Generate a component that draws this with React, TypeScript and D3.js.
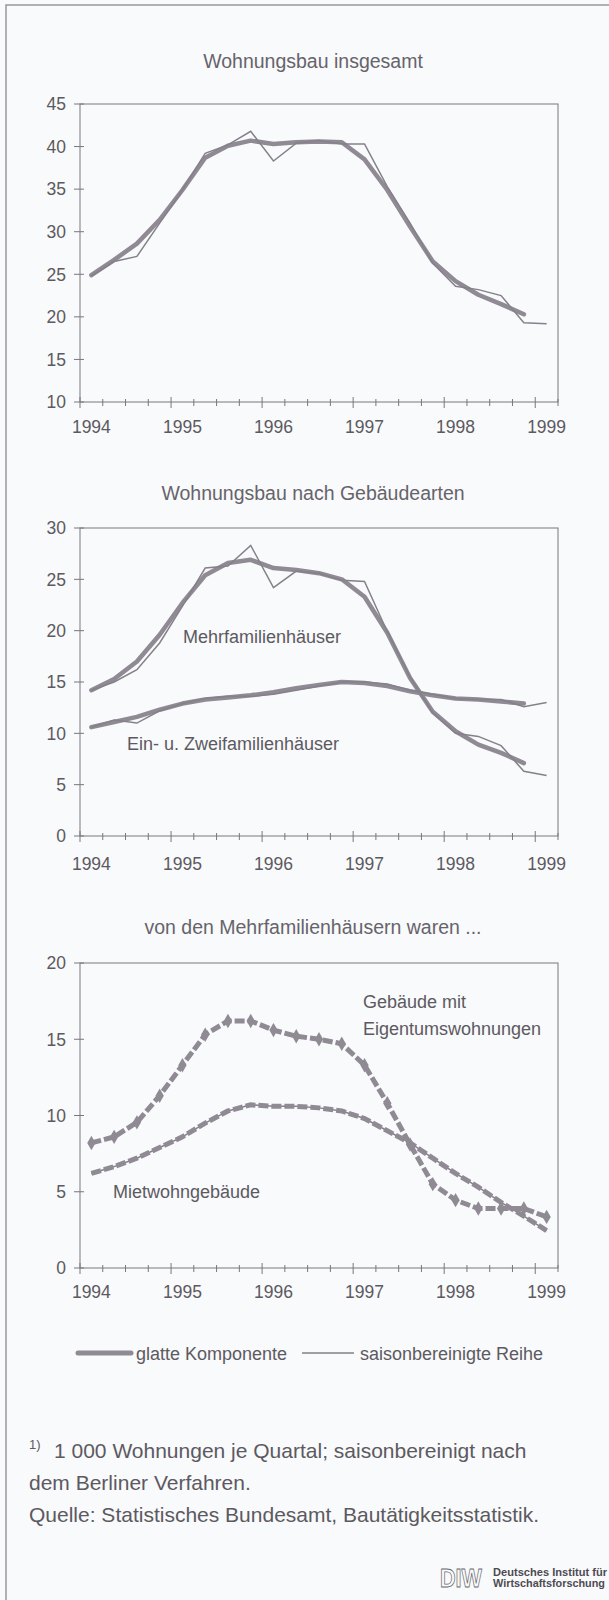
import React, { useEffect, useRef } from 'react';
import * as d3 from 'd3';

// Quartale 1994 Q1 .. 1999 Q1
const quarters = [
  '1994 Q1', '1994 Q2', '1994 Q3', '1994 Q4',
  '1995 Q1', '1995 Q2', '1995 Q3', '1995 Q4',
  '1996 Q1', '1996 Q2', '1996 Q3', '1996 Q4',
  '1997 Q1', '1997 Q2', '1997 Q3', '1997 Q4',
  '1998 Q1', '1998 Q2', '1998 Q3', '1998 Q4',
  '1999 Q1',
];
const yearLabels = ['1994', '1995', '1996', '1997', '1998', '1999'];

// Wohnungsbau insgesamt
const insgesamtSaison = [24.8, 26.5, 27.1, 31.0, 34.9, 39.2, 40.2, 41.8, 38.3, 40.4, 40.7, 40.3, 40.3, 35.3, 31.0, 26.3, 23.6, 23.2, 22.5, 19.3, 19.2];
const insgesamtGlatt = [24.9, 26.7, 28.6, 31.4, 34.9, 38.7, 40.1, 40.7, 40.3, 40.5, 40.6, 40.5, 38.5, 34.9, 30.6, 26.5, 24.2, 22.6, 21.5, 20.3];

// nach Gebäudearten
const mehrSaison = [14.2, 15.0, 16.2, 18.8, 22.4, 26.1, 26.3, 28.3, 24.2, 25.8, 25.6, 24.9, 24.8, 19.9, 15.5, 12.0, 10.0, 9.7, 8.8, 6.3, 5.9];
const mehrGlatt = [14.2, 15.3, 17.0, 19.6, 22.7, 25.4, 26.6, 26.9, 26.1, 25.9, 25.6, 25.0, 23.3, 19.8, 15.4, 12.1, 10.2, 8.9, 8.1, 7.1];
const einSaison = [10.6, 11.3, 11.0, 12.2, 12.9, 13.4, 13.6, 13.6, 13.8, 14.2, 14.6, 15.0, 15.0, 14.8, 14.2, 13.8, 13.4, 13.3, 13.3, 12.6, 13.0];
const einGlatt = [10.6, 11.1, 11.6, 12.3, 12.9, 13.3, 13.5, 13.7, 14.0, 14.4, 14.7, 15.0, 14.9, 14.6, 14.1, 13.7, 13.4, 13.3, 13.1, 12.9];

// von den Mehrfamilienhäusern
const eigentum = [8.2, 8.6, 9.55, 11.3, 13.3, 15.3, 16.2, 16.2, 15.6, 15.2, 15.0, 14.7, 13.3, 10.8, 8.1, 5.5, 4.45, 3.9, 3.9, 3.9, 3.35];
const mietwohn = [6.2, 6.65, 7.2, 7.9, 8.6, 9.5, 10.3, 10.7, 10.6, 10.6, 10.5, 10.3, 9.8, 9.0, 8.2, 7.2, 6.2, 5.3, 4.3, 3.4, 2.45];

const W = 609;
const H = 1600;
const LEFT = 80;
const RIGHT = 558;
const FONT = 'Liberation Sans, Arial, sans-serif';
const LINE = '#8f8a93';
const AXIS = '#7a767e';
const TEXT = '#5d5961';

const panels = [
  {
    title: 'Wohnungsbau insgesamt', titleY: 68, top: 104, bottom: 402, domain: [10, 45], labelGap: 31,
    glatt: [insgesamtGlatt], saison: [insgesamtSaison], dashed: [] as number[][], markers: [] as number[][],
    labels: [] as { text: string; x: number; y: number }[],
  },
  {
    title: 'Wohnungsbau nach Gebäudearten', titleY: 500, top: 528, bottom: 836, domain: [0, 30], labelGap: 34,
    glatt: [mehrGlatt, einGlatt], saison: [mehrSaison, einSaison], dashed: [], markers: [],
    labels: [
      { text: 'Mehrfamilienhäuser', x: 183, y: 643 },
      { text: 'Ein- u. Zweifamilienhäuser', x: 127, y: 750 },
    ],
  },
  {
    title: 'von den Mehrfamilienhäusern waren ...', titleY: 934, top: 963, bottom: 1268, domain: [0, 20], labelGap: 30,
    glatt: [], saison: [mietwohn], dashed: [mietwohn, eigentum], markers: [eigentum],
    labels: [
      { text: 'Gebäude mit', x: 363, y: 1008 },
      { text: 'Eigentumswohnungen', x: 363, y: 1035 },
      { text: 'Mietwohngebäude', x: 113, y: 1198 },
    ],
  },
];

export default function App() {
  const ref = useRef<SVGSVGElement>(null);

  useEffect(() => {
    const svg = d3.select(ref.current);
    svg.selectAll('*').remove();

    svg.append('rect').attr('width', W).attr('height', H).attr('fill', '#f8fafb');
    // Rahmen links und oben
    svg.append('path')
      .attr('d', `M6,${H} V5 H${W}`)
      .attr('fill', 'none')
      .attr('stroke', '#9c989e')
      .attr('stroke-width', 1.5);

    const x = d3.scaleBand<string>().domain(quarters).range([LEFT, RIGHT]);
    const cx = (i: number) => (x(quarters[i]) as number) + x.bandwidth() / 2;

    panels.forEach((p) => {
      const y = d3.scaleLinear().domain(p.domain).range([p.bottom, p.top]);
      const g = svg.append('g').attr('font-family', FONT);

      g.append('text')
        .attr('x', 313)
        .attr('y', p.titleY)
        .attr('text-anchor', 'middle')
        .attr('font-size', 19.5)
        .attr('fill', '#67636b')
        .text(p.title);

      // Rahmen des Diagramms
      g.append('rect')
        .attr('x', LEFT).attr('y', p.top)
        .attr('width', RIGHT - LEFT).attr('height', p.bottom - p.top)
        .attr('fill', 'none').attr('stroke', AXIS).attr('stroke-width', 1);

      // y-Achse
      const yTicks = d3.range(p.domain[0], p.domain[1] + 0.1, 5);
      g.selectAll('.ytick').data(yTicks).enter().append('line')
        .attr('x1', LEFT - 6).attr('x2', LEFT + 4)
        .attr('y1', (d) => y(d)).attr('y2', (d) => y(d))
        .attr('stroke', AXIS);
      g.selectAll('.ylab').data(yTicks).enter().append('text')
        .attr('x', 66).attr('y', (d) => y(d)).attr('dy', '0.36em')
        .attr('text-anchor', 'end').attr('font-size', 17.5).attr('fill', TEXT)
        .text((d) => d);

      // x-Achse: Quartalsstriche
      const xTicks = quarters.map((q) => x(q) as number).concat([RIGHT]);
      g.selectAll('.xtick').data(xTicks).enter().append('line')
        .attr('x1', (d) => d).attr('x2', (d) => d)
        .attr('y1', (_, i) => p.bottom - (i % 4 === 0 ? 5 : 3))
        .attr('y2', (_, i) => p.bottom + (i % 4 === 0 ? 6 : 4))
        .attr('stroke', AXIS);
      g.selectAll('.xlab').data(yearLabels).enter().append('text')
        .attr('x', (d) => cx(quarters.indexOf(d + ' Q1')))
        .attr('y', p.bottom + p.labelGap)
        .attr('text-anchor', 'middle').attr('font-size', 17.5).attr('fill', TEXT)
        .text((d) => d);

      const line = d3.line<number>().x((_, i) => cx(i)).y((d) => y(d));

      p.glatt.forEach((s) => {
        g.append('path').attr('d', line(s)).attr('fill', 'none')
          .attr('stroke', LINE).attr('stroke-width', 4.5)
          .attr('stroke-linejoin', 'round').attr('stroke-linecap', 'round');
      });
      p.saison.forEach((s) => {
        g.append('path').attr('d', line(s)).attr('fill', 'none')
          .attr('stroke', '#85818a').attr('stroke-width', 1.5)
          .attr('stroke-linejoin', 'miter');
      });
      p.dashed.forEach((s) => {
        g.append('path').attr('d', line(s)).attr('fill', 'none')
          .attr('stroke', LINE).attr('stroke-width', 5)
          .attr('stroke-dasharray', '10,3');
      });
      p.markers.forEach((s) => {
        g.selectAll('.mk').data(s).enter().append('path')
          .attr('d', d3.symbol().type(d3.symbolDiamond).size(60))
          .attr('transform', (d, i) => `translate(${cx(i)},${y(d)})`)
          .attr('fill', LINE);
      });

      p.labels.forEach((l) => {
        g.append('text').attr('x', l.x).attr('y', l.y)
          .attr('font-size', 18).attr('fill', TEXT).text(l.text);
      });
    });

    // Legende
    const lg = svg.append('g').attr('font-family', FONT).attr('font-size', 18).attr('fill', TEXT);
    lg.append('line').attr('x1', 78).attr('x2', 131).attr('y1', 1353).attr('y2', 1353)
      .attr('stroke', LINE).attr('stroke-width', 5).attr('stroke-linecap', 'round');
    lg.append('text').attr('x', 136).attr('y', 1360).text('glatte Komponente');
    lg.append('line').attr('x1', 302).attr('x2', 354).attr('y1', 1353).attr('y2', 1353)
      .attr('stroke', '#85818a').attr('stroke-width', 1.5);
    lg.append('text').attr('x', 360).attr('y', 1360).text('saisonbereinigte Reihe');

    // Fußnote und Quelle
    const fn = svg.append('g').attr('font-family', FONT).attr('fill', TEXT);
    fn.append('text').attr('x', 29).attr('y', 1449).attr('font-size', 13).text('1)');
    fn.append('text').attr('x', 54).attr('y', 1458).attr('font-size', 21)
      .text('1 000 Wohnungen je Quartal; saisonbereinigt nach');
    fn.append('text').attr('x', 29).attr('y', 1490).attr('font-size', 21).text('dem Berliner Verfahren.');
    fn.append('text').attr('x', 29).attr('y', 1522).attr('font-size', 21)
      .text('Quelle: Statistisches Bundesamt, Bautätigkeitsstatistik.');

    // DIW-Logo
    const logo = svg.append('g').attr('font-family', FONT);
    logo.append('text').attr('x', 440).attr('y', 1587).attr('font-size', 26).attr('font-weight', 'bold')
      .attr('fill', '#f8fafb').attr('stroke', '#6a666e').attr('stroke-width', 0.8)
      .attr('textLength', 42).attr('lengthAdjust', 'spacingAndGlyphs').text('DIW');
    logo.append('text').attr('x', 493).attr('y', 1576).attr('font-size', 11).attr('font-weight', 'bold')
      .attr('fill', '#4e4a52').attr('textLength', 114).attr('lengthAdjust', 'spacingAndGlyphs')
      .text('Deutsches Institut für');
    logo.append('text').attr('x', 493).attr('y', 1587).attr('font-size', 11).attr('font-weight', 'bold')
      .attr('fill', '#4e4a52').attr('textLength', 112).attr('lengthAdjust', 'spacingAndGlyphs')
      .text('Wirtschaftsforschung');
  }, []);

  return (
    <div style={{ position: 'absolute', left: 0, top: 0 }}>
      <svg ref={ref} width={W} height={H} style={{ display: 'block' }} />
    </div>
  );
}
